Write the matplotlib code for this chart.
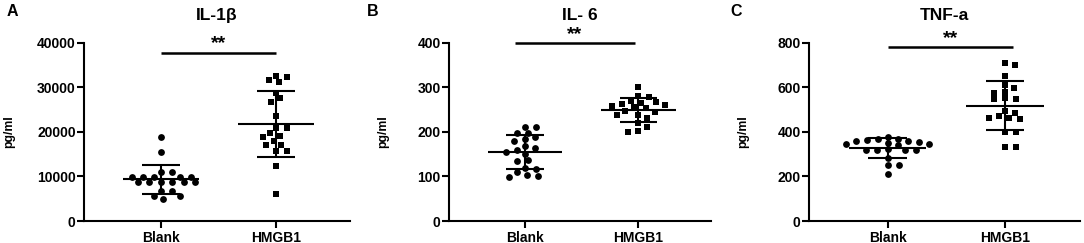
import numpy as np
import matplotlib
matplotlib.use("Agg")
import matplotlib.pyplot as plt

plt.rcParams["font.family"] = ["Liberation Sans", "DejaVu Sans"]
plt.rcParams["font.weight"] = "bold"

# ===================================
# Data
# ===================================
groups = ["Blank", "HMGB1"]

il1b_blank = [18800, 15400, 10900, 10900, 9900, 9900, 9900, 9900, 9900,
              8700, 8700, 8700, 8700, 8700, 8700, 6700, 6700, 5700, 5700, 4900]
il1b_hmgb1 = [32370, 31180, 31630, 32600, 27510, 28790, 26620, 23630, 20790, 20940,
              19070, 19810, 17940, 16970, 18770, 16970, 15780, 15780, 12340, 6060]

il6_blank = [211, 210, 198, 198, 188, 183, 180, 168, 163, 159,
             155, 150, 137, 135, 118, 116, 109, 103, 101, 99]
il6_hmgb1 = [301, 279, 280, 268, 270, 262, 258, 260, 265, 253,
             245, 247, 255, 238, 230, 238, 212, 220, 200, 203]

tnf_blank = [378, 370, 366, 362, 360, 358, 356, 350, 346, 344,
             340, 322, 320, 320, 318, 318, 283, 250, 250, 210]
tnf_hmgb1 = [710, 700, 651, 595, 610, 573, 580, 546, 546, 551,
             483, 460, 457, 464, 471, 494, 401, 401, 331, 331]

titles = ["IL-1\u03b2", "IL- 6", "TNF-a"]
letters = ["A", "B", "C"]
yticks = [[0, 10000, 20000, 30000, 40000],
          [0, 100, 200, 300, 400],
          [0, 200, 400, 600, 800]]
sig_y = [37800, 400, 782]

# layout (pixels measured on the 1084x243 reference)
W, H = 1084, 243
axes_px = [(84, 266), (449, 262), (809, 271)]
sig_x = [(0, 1), (-0.09, 0.97), (0, 1.07)]
ylabel_x = [-0.26, -0.23, -0.22]
letter_x = [12, 373, 736]
XLIM = (-0.67, 1.64)
DX, DY = 11.0, 6.0  # swarm spacing in pixels (horizontal, vertical)


def swarm_offsets(ax, values, xc):
    """beeswarm offsets (data units) for points at category xc"""
    ys = ax.transData.transform(np.column_stack([np.full(len(values), xc), values]))[:, 1]
    x_per_px = (XLIM[1] - XLIM[0]) / ax.bbox.width
    order = np.argsort(-np.asarray(values))
    placed = []
    offs = np.zeros(len(values))

    def clash(c, y):
        return any(((c - px) / DX) ** 2 + ((y - py) / DY) ** 2 < 1 - 1e-6
                   for (px, py) in placed)

    for i in order:
        y = ys[i]
        cands = [0.0]
        for (px, py) in placed:
            dy = abs(y - py)
            if dy < DY:
                dx = DX * np.sqrt(1 - (dy / DY) ** 2)
                cands += [px + dx, px - dx]
        ok = [c for c in cands if not clash(c, y)]
        best = min(ok, key=lambda c: (round(abs(c), 6), -c))
        placed.append((best, y))
        offs[i] = best * x_per_px
    return offs


fig = plt.figure(figsize=(W / 100, H / 100), dpi=100)

panels = [(il1b_blank, il1b_hmgb1), (il6_blank, il6_hmgb1), (tnf_blank, tnf_hmgb1)]

for k, (blank, hmgb1) in enumerate(panels):
    left, width = axes_px[k]
    ax = fig.add_axes([left / W, 22 / H, width / W, 178.3 / H])
    ax.set_xlim(*XLIM)
    ax.set_ylim(0, yticks[k][-1])

    for j, (vals, mk, ms) in enumerate([(blank, "o", 24), (hmgb1, "s", 24)]):
        vals = np.asarray(vals, dtype=float)
        offs = swarm_offsets(ax, vals, j)
        ax.scatter(j + offs, vals, marker=mk, s=ms, color="black",
                   linewidths=0, clip_on=False, zorder=2)

        m = vals.mean()
        sd = vals.std(ddof=1)
        ax.hlines(m, j - 0.33, j + 0.33, color="black", lw=1.5, zorder=3)
        ax.hlines([m - sd, m + sd], j - 0.165, j + 0.165, color="black", lw=1.5, zorder=3)
        ax.vlines(j, m - sd, m + sd, color="black", lw=1.5, zorder=3)

    # significance bar
    ax.plot(sig_x[k], [sig_y[k], sig_y[k]], color="black", lw=1.8,
            clip_on=False, solid_capstyle="butt")
    ax.text(np.mean(sig_x[k]), sig_y[k], "**", ha="center", va="bottom",
            fontsize=14, fontweight="bold")

    ax.set_xticks([0, 1])
    ax.set_xticklabels(groups, fontsize=10, fontweight="bold")
    ax.set_yticks(yticks[k])
    ax.set_yticklabels([str(t) for t in yticks[k]], fontsize=10, fontweight="bold")
    ax.tick_params(axis="both", width=1.5, length=5, pad=1)
    ax.tick_params(axis="x", pad=2)

    for s in ["top", "right"]:
        ax.spines[s].set_visible(False)
    for s in ["left", "bottom"]:
        ax.spines[s].set_linewidth(1.5)

    ax.set_ylabel("pg/ml", fontsize=8.8, fontweight="bold")
    ax.yaxis.set_label_coords(ylabel_x[k], 0.5)
    ax.set_title(titles[k], fontsize=12.5, fontweight="bold", pad=16)

    fig.text(letter_x[k] / W, 1 - 12 / H, letters[k], ha="center", va="center",
             fontsize=11.5, fontweight="bold")

fig.savefig("out.png", dpi=100)
plt.close(fig)
